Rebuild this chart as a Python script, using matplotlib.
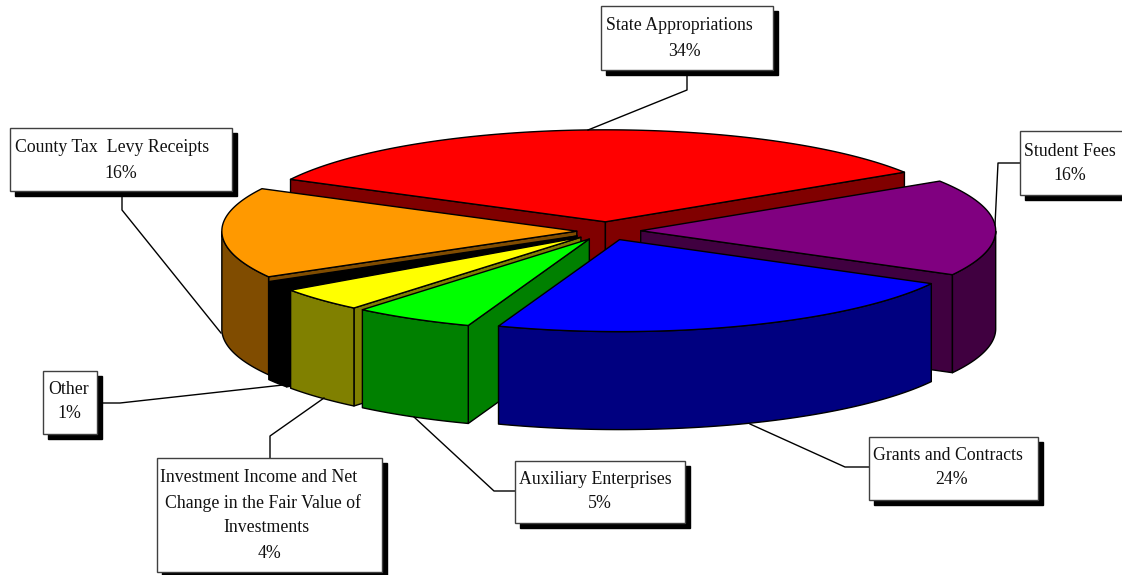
import numpy as np
import matplotlib
matplotlib.use('Agg')
import matplotlib.pyplot as plt
from matplotlib.patches import Polygon, Rectangle

# pie data, clockwise from the left edge of the red slice
categories = ['State Appropriations', 'Student Fees', 'Grants and Contracts',
              'Auxiliary Enterprises',
              'Investment Income and Net\nChange in the Fair Value of\nInvestments',
              'Other', 'County Tax  Levy Receipts']
percent_labels = ['34%', '16%', '24%', '5%', '4%', '1%', '16%']
# slice sizes
values = [33.3, 17.0, 22.6, 5.5, 4.2, 1.5, 15.9]
top_colors = ['#ff0000', '#800080', '#0000ff', '#00ff00', '#ffff00', '#000000', '#ff9900']
side_colors = ['#800000', '#400040', '#000080', '#008000', '#808000', '#000000', '#804c00']
draw_order = [0, 1, 6, 5, 4, 3, 2]

# label boxes x0, y0, x1, y1 and leader lines, in pixels
boxes = [(601, 6, 773, 70), (1020, 131, 1130, 195), (869, 437, 1038, 500), (515, 461, 685, 523),
         (157, 458, 382, 572), (43, 371, 97, 434), (10, 128, 232, 191)]
line_x = [[679, 684], [1070, 1070], [948, 952], [595, 600], [259, 263, 266, 270], [69, 69], [112, 121]]
line_y = [[25, 52], [151, 175], [456, 480], [479, 504], [477, 503, 528, 553], [390, 414], [148, 173]]
leaders = [[(687, 70), (687, 90), (588, 130)],
           [(1020, 163), (998, 163), (995, 225)],
           [(869, 467), (845, 467), (750, 424)],
           [(515, 491), (494, 491), (414, 417)],
           [(270, 458), (270, 436), (324, 398)],
           [(102, 403), (120, 403), (283, 385)],
           [(122, 191), (122, 210), (221, 333)]]

cx, cy = 607, 231
rx, ry = 355, 92
depth = 98
explode = [0.1, 0.095, 0.1, 0.1, 0.1, 0.1, 0.085]
start_angle = 152.5

plt.rcParams['font.family'] = ['Liberation Serif', 'DejaVu Serif']
fig = plt.figure(figsize=(11.22, 5.75), dpi=100)
ax = fig.add_axes([0, 0, 1, 1])
ax.set_xlim(0, 1122)
ax.set_ylim(575, 0)
ax.axis('off')

edges = start_angle - np.concatenate([[0], np.cumsum(values)]) / np.sum(values) * 360
down = np.array([0, depth])
kw = dict(edgecolor='black', linewidth=1, joinstyle='round')

for i in draw_order:
    a0, a1 = np.radians(edges[i]), np.radians(edges[i + 1])
    mid = (a0 + a1) / 2
    apex = np.array([cx + explode[i] * rx * np.cos(mid), cy - explode[i] * ry * np.sin(mid)])
    t = np.linspace(a0, a1, 120)
    arc = np.column_stack([apex[0] + rx * np.cos(t), apex[1] - ry * np.sin(t)])
    centre = arc[60]
    # radial walls that face the viewer
    for p in (arc[0], arc[-1]):
        d = p - apex
        n = np.array([-d[1], d[0]])
        if n @ (centre - apex) > 0:
            n = -n
        if n[1] > 0:
            ax.add_patch(Polygon([apex, p, p + down, apex + down], facecolor=side_colors[i], **kw))
    # rim, only the front half
    front = arc[np.sin(t) <= 0]
    if len(front) > 1:
        ax.add_patch(Polygon(np.vstack([front, (front + down)[::-1]]), facecolor=side_colors[i], **kw))
    ax.add_patch(Polygon(np.vstack([apex, arc]), facecolor=top_colors[i], **kw))

for i, name in enumerate(categories):
    x0, y0, x1, y1 = boxes[i]
    pts = np.array(leaders[i])
    ax.plot(pts[:, 0], pts[:, 1], color='black', lw=1, zorder=5)
    ax.add_patch(Rectangle((x0 + 5, y0 + 5), x1 - x0, y1 - y0, facecolor='black', edgecolor='black', zorder=6))
    ax.add_patch(Rectangle((x0, y0), x1 - x0, y1 - y0, facecolor='white', edgecolor='#404040', lw=1, zorder=7))
    lines = name.split('\n') + [percent_labels[i]]
    for s, x, y in zip(lines, line_x[i], line_y[i]):
        ax.text(x, y, s, ha='center', va='center', fontsize=12.8, color='#111111', zorder=8)

fig.savefig('out.png', dpi=100)
